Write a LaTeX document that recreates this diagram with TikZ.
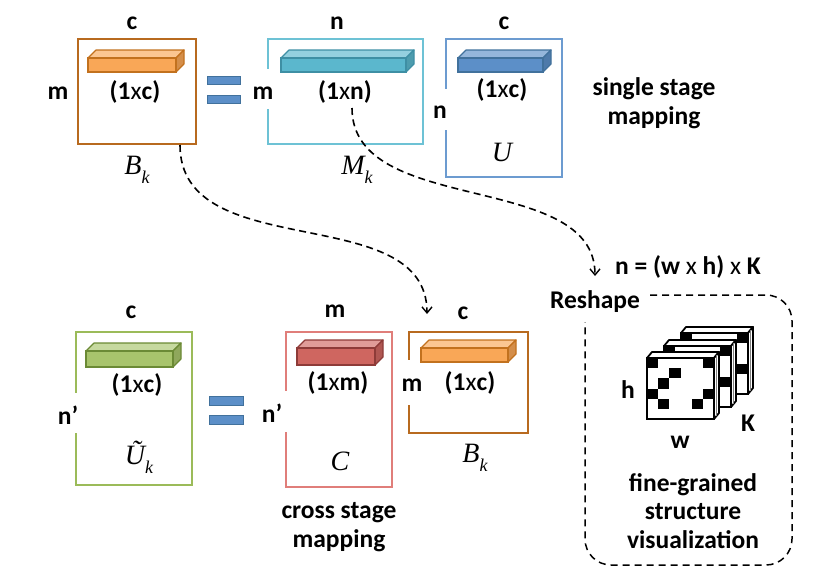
\documentclass[tikz,border=0pt]{standalone}
\usepackage{fontspec}
\setmainfont{Carlito}
\newfontfamily\serifit{Liberation Serif}
\usetikzlibrary{arrows.meta}

\definecolor{orE}{HTML}{B86A1F}
\definecolor{orF}{HTML}{F9A757}
\definecolor{orD}{HTML}{C2711E}
\definecolor{cyE}{HTML}{6DC2D5}
\definecolor{cyF}{HTML}{5BB7CD}
\definecolor{cyD}{HTML}{3E8FA4}
\definecolor{blE}{HTML}{6C9BD0}
\definecolor{blF}{HTML}{5C8FC8}
\definecolor{blD}{HTML}{41719C}
\definecolor{grE}{HTML}{9BBB59}
\definecolor{grF}{HTML}{A8C46C}
\definecolor{grD}{HTML}{6B8A35}
\definecolor{rdE}{HTML}{E07E7A}
\definecolor{rdF}{HTML}{CF6660}
\definecolor{rdD}{HTML}{8E3B38}

% prism bar: x, y (top of front face), width, height, fill, edge
\newcommand\prismbar[6]{%
  \filldraw[fill=#5!65!white,draw=#6,line width=1.2pt,line join=round]
    (#1,#2) -- ++(8,-8) -- ++(#3,0) -- ++(-8,8) -- cycle;
  \filldraw[fill=#5!85!black,draw=#6,line width=1.2pt,line join=round]
    ({#1+#3},#2) -- ++(8,-8) -- ++(0,#4) -- ++(-8,8) -- cycle;
  \filldraw[fill=#5,draw=#6,line width=1.2pt] (#1,#2) rectangle ++(#3,#4);
}
% one reshaped frame: front top-left corner
\newcommand\frameimg[2]{%
  \begin{scope}[shift={(#1,#2)}]
    \filldraw[fill=white,draw=black,line width=1.8pt,line join=round]
      (0,0) -- (5,-6) -- (72,-6) -- (67,0) -- cycle;
    \filldraw[fill=white,draw=black,line width=1.8pt,line join=round]
      (67,0) -- (72,-6) -- (72,55) -- (67,61) -- cycle;
    \draw[gray,line width=1pt] (69.5,-3) -- (69.5,58);
    \fill[white] (0,0) rectangle (67,61);
    \fill[black] (0,0) rectangle (11.2,10.2);
    \fill[black] (55.8,0) rectangle (67,10.2);
    \fill[black] (22.3,10.2) rectangle (33.5,20.3);
    \fill[black] (11.2,20.3) rectangle (22.3,30.5);
    \fill[black] (0,30.5) rectangle (11.2,40.7);
    \fill[black] (55.8,30.5) rectangle (67,40.7);
    \fill[black] (11.2,40.7) rectangle (22.3,50.8);
    \fill[black] (44.7,40.7) rectangle (55.8,50.8);
    \draw[line width=1.8pt] (0,0) rectangle (67,61);
  \end{scope}}
\newcommand\mlab[2]{{\serifit\itshape\fontsize{28}{28}\selectfont #1}\raisebox{-9pt}{\serifit\itshape\fontsize{18}{18}\selectfont #2}}

\begin{document}
\begin{tikzpicture}[x=1pt,y=-1pt,
  lab/.style={font=\fontsize{25.5}{28.5}\selectfont\bfseries,inner sep=0pt,align=center},
  boxst/.style={rectangle,line width=1.8pt,inner sep=0pt},
  gap/.style={fill=white},
  eqbar/.style={fill=blF,draw=blD,line width=1pt},
  flow/.style={dash pattern=on 7pt off 4.5pt,line width=1.6pt,-{Straight Barb[length=6pt,width=10pt,line width=1.4pt]}},
  frame/.style={dash pattern=on 7pt off 5pt,line width=1.5pt,rounded corners=26pt}]
\useasboundingbox (0,0) rectangle (839,581);

% ---------- top row ----------
\node[boxst,draw=orE,minimum width=118pt,minimum height=105pt] (BkT) at (137,91.5) {};
\prismbar{88}{58}{88}{14}{orF}{orD}
\node[lab] (BkTc) at (132,23) {c};
\node[lab] (BkTm) at (58,93) {m};
\node[lab] (BkTv) at (135,92) {(1{\mdseries x}c)};
\node (BkTn) at (137,170) {\mlab{B}{k}};

\filldraw[eqbar] (207,76) rectangle (240,84);
\filldraw[eqbar] (207,95) rectangle (240,103);

\node[boxst,draw=cyE,minimum width=155pt,minimum height=105pt] (Mk) at (345.5,91.5) {};
\fill[gap] (264,69) rectangle (272,109);
\prismbar{281}{58}{125}{14}{cyF}{cyD}
\node[lab] (Mkn) at (337,23) {n};
\node[lab] (Mkm) at (263,93) {m};
\node[lab] (Mkv) at (345,92) {(1{\mdseries x}n)};
\node (Mkl) at (357,170) {\mlab{M}{k}};

\node[boxst,draw=blE,minimum width=116pt,minimum height=138pt] (U) at (504,108) {};
\fill[gap] (442,89) rectangle (450,130);
\prismbar{458}{58}{85}{14}{blF}{blD}
\node[lab] (Uc) at (504,23) {c};
\node[lab] (Un) at (440,112) {n};
\node[lab] (Uv) at (502,90) {(1{\mdseries x}c)};
\node (Ul) at (502,152) {{\serifit\itshape\fontsize{28}{28}\selectfont U}};

\node[lab] (single) at (654,103) {single stage\\mapping};

% ---------- bottom row ----------
\node[boxst,draw=grE,minimum width=116pt,minimum height=153pt] (Ut) at (134,408.5) {};
\fill[gap] (72,393) rectangle (80,433);
\prismbar{86}{351}{87}{16}{grF}{grD}
\node[lab] (Utc) at (131,312) {c};
\node[lab] (Utn) at (68,415) {n’};
\node[lab] (Utv) at (137,385) {(1{\mdseries x}c)};
\node (Utl) at (139,457) {\mlab{\~U}{k}};

\filldraw[eqbar] (209,396) rectangle (243,405);
\filldraw[eqbar] (209,415) rectangle (243,424);

\node[boxst,draw=rdE,minimum width=106pt,minimum height=155pt] (C) at (339,409.5) {};
\fill[gap] (282,391) rectangle (290,432);
\prismbar{297}{348}{78}{17}{rdF}{rdD}
\node[lab] (Cm) at (335,311) {m};
\node[lab] (Cn) at (272,413) {n’};
\node[lab] (Cv) at (338,383) {(1{\mdseries x}m)};
\node (Cl) at (340,461) {{\serifit\itshape\fontsize{28}{28}\selectfont C}};

\node[boxst,draw=orE,minimum width=119pt,minimum height=101pt] (BkB) at (468.5,382.5) {};
\fill[gap] (405,360) rectangle (413,405);
\prismbar{421}{348}{87}{14}{orF}{orD}
\node[lab] (BkBc) at (463,313) {c};
\node[lab] (BkBm) at (412,385) {m};
\node[lab] (BkBv) at (470,383) {(1{\mdseries x}c)};
\node (BkBl) at (475,458) {\mlab{B}{k}};

\node[lab] (cross) at (339,527) {cross stage\\mapping};

% ---------- reshape panel ----------
\node[lab] (nform) at (688,267) {n = (w {\mdseries x} h) {\mdseries x} K};
\node[lab] (reshape) at (595,302) {Reshape};
\draw[frame] (650,295) -- (792,295) -- (792,565) -- (585,565) -- (585,322);

\frameimg{681}{333}
\frameimg{664}{346}
\frameimg{647}{358}
\node[lab] (h) at (628,390) {h};
\node[lab] (w) at (680,442) {w};
\node[lab] (K) at (748,423) {K};
\node[lab] (fine) at (693,511) {fine-grained\\structure\\visualization};

% ---------- connectors ----------
\coordinate (a1s) at (180,145);
\coordinate (a1e) at (427,314);
\coordinate (a2s) at (352,108);
\coordinate (a2e) at (595,276);
\draw[flow] (a1s) .. controls (180,266) and (427,199) .. (a1e);
\draw[flow] (a2s) .. controls (352,217) and (595,170) .. (a2e);
\end{tikzpicture}
\end{document}
